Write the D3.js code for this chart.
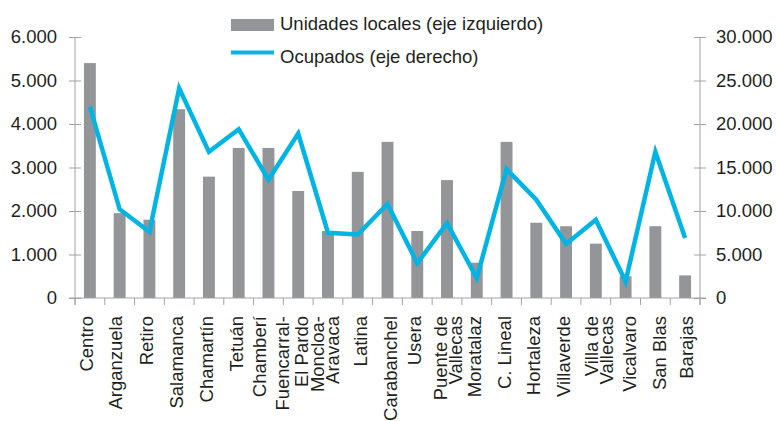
<!DOCTYPE html>
<html>
<head>
<meta charset="utf-8">
<script src="https://cdn.jsdelivr.net/npm/d3@7/dist/d3.min.js"></script>
<style>
  html, body { margin: 0; padding: 0; background: #ffffff; }
  svg { display: block; }
  text { font-family: "Liberation Sans", Arial, Helvetica, sans-serif; fill: #231f20; }
</style>
</head>
<body>
<svg id="chart" width="776" height="421"></svg>
<script>
// ---- data ----
const categories = ["Centro", "Arganzuela", "Retiro", "Salamanca", "Chamartín", "Tetuán", "Chamberí",
  "Fuencarral-\nEl Pardo", "Moncloa-\nAravaca", "Latina", "Carabanchel", "Usera", "Puente de\nVallecas",
  "Moratalaz", "C. Lineal", "Hortaleza", "Villaverde", "Villa de\nVallecas", "Vicalvaro", "San Blas", "Barajas"];
const unidadesLocales = [5400, 1950, 1800, 4340, 2790, 3450, 3450, 2460, 1540, 2900, 3590, 1540, 2710,
  810, 3590, 1730, 1650, 1250, 500, 1650, 520];
const ocupados = [22000, 10200, 7600, 24100, 16800, 19400, 13600, 18900, 7500, 7300, 10800, 4000, 8600,
  2300, 14800, 11300, 6200, 9000, 1900, 16800, 6900];
const leftTicks = [0, 1000, 2000, 3000, 4000, 5000, 6000];
const rightTicks = [0, 5000, 10000, 15000, 20000, 25000, 30000];
const seriesNames = ["Unidades locales (eje izquierdo)", "Ocupados (eje derecho)"];

// ---- layout (not data) ----
const labelShift = { "Centro": 3, "Arganzuela": 2, "Chamberí": -2, "Latina": 9, "Carabanchel": 9,
  "Vicalvaro": 10, "San Blas": 11, "Barajas": 8 };
const twoLineShift = { "Fuencarral-\nEl Pardo": [-9, 10], "Moncloa-\nAravaca": [-4, 11],
  "Puente de\nVallecas": [0, 15], "Villa de\nVallecas": [2, 17] };

const barColor = "#939598", lineColor = "#00b4e3", axisColor = "#a3a3a3";
const fontSize = "18.5px";

const svg = d3.select("#chart");
const loc = d3.formatLocale({ decimal: ",", thousands: ".", grouping: [3], currency: ["", " €"] });
const fmt = loc.format(",");

const x = d3.scaleBand().domain(categories).range([75, 700]).paddingInner(0.6).paddingOuter(0.3);
const yL = d3.scaleLinear().domain([0, 6000]).range([298, 37]);
const yR = d3.scaleLinear().domain([0, 30000]).range([298, 37]);

// left axis
const gL = svg.append("g").attr("transform", "translate(75,0)")
  .call(d3.axisLeft(yL).tickValues(leftTicks).tickFormat(fmt).tickSizeInner(6).tickSizeOuter(0).tickPadding(12));
gL.select(".domain").remove();
gL.selectAll(".tick line").attr("x1", 6).attr("stroke", axisColor);
gL.selectAll(".tick text").style("font-size", fontSize).attr("fill", "#231f20");
gL.append("line").attr("x1", 0).attr("x2", 0).attr("y1", yL(6000)).attr("y2", 305).attr("stroke", axisColor);

// right axis
const gR = svg.append("g").attr("transform", "translate(700,0)")
  .call(d3.axisRight(yR).tickValues(rightTicks).tickFormat(fmt).tickSizeInner(6).tickSizeOuter(0).tickPadding(10));
gR.select(".domain").remove();
gR.selectAll(".tick line").attr("x1", -6).attr("stroke", axisColor);
gR.selectAll(".tick text").style("font-size", fontSize).attr("fill", "#231f20");
gR.append("line").attr("x1", 0).attr("x2", 0).attr("y1", yR(30000)).attr("y2", 305).attr("stroke", axisColor);

// bars
svg.append("g").selectAll("rect").data(categories).join("rect")
  .attr("x", d => x(d))
  .attr("width", x.bandwidth())
  .attr("y", (d, i) => yL(unidadesLocales[i]))
  .attr("height", (d, i) => yL(0) - yL(unidadesLocales[i]))
  .attr("fill", barColor);

// bottom axis
const gB = svg.append("g");
gB.append("line").attr("x1", 69).attr("x2", 706).attr("y1", yL(0)).attr("y2", yL(0)).attr("stroke", axisColor);
const step = x.step();
const boundaries = d3.range(categories.length + 1).map(i => x.range()[0] + i * step);
gB.selectAll("line.tk").data(boundaries).join("line").attr("class", "tk")
  .attr("x1", d => d).attr("x2", d => d).attr("y1", yL(0)).attr("y2", 305).attr("stroke", axisColor);

// category labels
const labTop = 316;
categories.forEach(c => {
  const cx = x(c) + x.bandwidth() / 2;
  const lines = c.split("\n");
  if (lines.length === 1) {
    const s = labelShift[c] !== undefined ? labelShift[c] : 4;
    gB.append("text")
      .attr("transform", `translate(${cx + s},${labTop}) rotate(-90)`)
      .attr("text-anchor", "end")
      .style("font-size", fontSize)
      .text(c);
  } else {
    const sh = twoLineShift[c] || [-2, 12];
    lines.forEach((ln, k) => {
      gB.append("text")
        .attr("transform", `translate(${cx + sh[k]},${labTop}) rotate(-90)`)
        .attr("text-anchor", "end")
        .style("font-size", fontSize)
        .text(ln);
    });
  }
});

// line
const line = d3.line()
  .x((d, i) => x(categories[i]) + x.bandwidth() / 2)
  .y(d => yR(d));
svg.append("path").datum(ocupados)
  .attr("d", line)
  .attr("fill", "none")
  .attr("stroke", lineColor)
  .attr("stroke-width", 4.5)
  .attr("stroke-linejoin", "miter");

// legend
const lg = svg.append("g");
lg.append("rect").attr("x", 231).attr("y", 19).attr("width", 43).attr("height", 12).attr("fill", barColor);
lg.append("text").attr("x", 280).attr("y", 29.5).style("font-size", fontSize).text(seriesNames[0]);
lg.append("line").attr("x1", 231).attr("x2", 274).attr("y1", 52.5).attr("y2", 52.5)
  .attr("stroke", lineColor).attr("stroke-width", 4);
lg.append("text").attr("x", 280).attr("y", 62.5).style("font-size", fontSize).text(seriesNames[1]);
</script>
</body>
</html>
